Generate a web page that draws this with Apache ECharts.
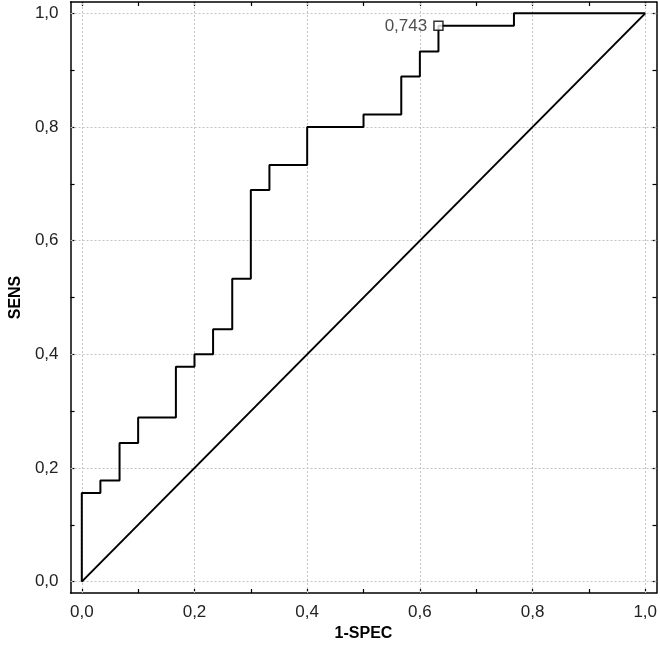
<!DOCTYPE html>
<html>
<head>
<meta charset="utf-8">
<script src="https://cdn.jsdelivr.net/npm/echarts@6/dist/echarts.min.js"></script>
<style>
html,body{margin:0;padding:0;background:#fff;}
#chart{width:660px;height:655px;}
</style>
</head>
<body>
<div id="chart"></div>
<script>
// ROC curve vertices (1-specificity, sensitivity)
var rocX = [0, 0, 0.033, 0.067, 0.1, 0.167, 0.2, 0.233, 0.267, 0.3, 0.333, 0.4, 0.5, 0.567, 0.6, 0.633, 0.767, 1.0];
var rocY = [0, 0.156, 0.178, 0.244, 0.289, 0.378, 0.4, 0.444, 0.533, 0.689, 0.733, 0.8, 0.822, 0.889, 0.933, 0.978, 1.0, 1.0];
// reference diagonal
var diagX = [0, 1];
var diagY = [0, 1];
// highlighted cut-off point
var cutX = [0.633];
var cutY = [0.978];
var cutLabel = ['0,743'];
// axis ticks and labels
var tickValues = [0, 0.1, 0.2, 0.3, 0.4, 0.5, 0.6, 0.7, 0.8, 0.9, 1.0];
var labelValues = [0, 0.2, 0.4, 0.6, 0.8, 1.0];
var gridValues = [0, 0.2, 0.4, 0.6, 0.8, 1.0];

var FONT = '"Liberation Sans", Arial, sans-serif';
function fmt(v){ return v.toFixed(1).replace('.', ','); }

function zipXY(xs, ys){ return xs.map(function(x,i){ return [x, ys[i]]; }); }

var gridLines = [];
gridValues.forEach(function(v){ gridLines.push({xAxis: v}); gridLines.push({yAxis: v}); });

function axisBase(extra){
  var a = {
    type: 'value', min: -0.02, max: 1.02,
    axisLine: {show: true, onZero: false, lineStyle: {color: '#000', width: 1.5}},
    axisTick: {show: true, inside: true, length: 4, customValues: tickValues, lineStyle: {color: '#000', width: 1.2}},
    splitLine: {show: false},
    axisLabel: {show: false}
  };
  for (var k in extra) a[k] = extra[k];
  return a;
}

var chart = echarts.init(document.getElementById('chart'), null, {renderer: 'canvas'});
chart.setOption({
  animation: false,
  backgroundColor: '#fff',
  grid: {left: 68, right: 2, top: 2, bottom: 62, containLabel: false},
  xAxis: [
    axisBase({
      position: 'bottom',
      name: '1-SPEC', nameLocation: 'middle', nameGap: 32,
      nameTextStyle: {fontFamily: FONT, fontWeight: 'bold', fontSize: 16, color: '#000'},
      axisLabel: {show: true, customValues: labelValues, margin: 11, fontFamily: FONT, fontSize: 17, color: '#222', formatter: fmt}
    }),
    axisBase({position: 'top'})
  ],
  yAxis: [
    axisBase({
      position: 'left',
      name: 'SENS', nameLocation: 'middle', nameGap: 42,
      nameTextStyle: {fontFamily: FONT, fontWeight: 'bold', fontSize: 16, color: '#000'},
      axisLabel: {show: true, customValues: labelValues, margin: 12, fontFamily: FONT, fontSize: 17, color: '#222', formatter: fmt}
    }),
    axisBase({position: 'right'})
  ],
  series: [
    {
      type: 'line', data: zipXY(diagX, diagY), symbol: 'none',
      lineStyle: {color: '#000', width: 2}, z: 3,
      markLine: {
        silent: true, symbol: 'none', label: {show: false},
        lineStyle: {color: '#c4c4c4', type: [2, 2], width: 1},
        data: gridLines, z: 1
      }
    },
    {
      type: 'line', data: zipXY(rocX, rocY), step: 'end', symbol: 'none',
      lineStyle: {color: '#000', width: 2}, z: 4
    },
    {
      type: 'scatter', data: cutX.map(function(x,i){ return {value: [x, cutY[i]], label: {formatter: cutLabel[i]}}; }),
      symbol: 'rect', symbolSize: 9,
      itemStyle: {color: '#fff', borderColor: '#000', borderWidth: 1.5},
      label: {show: true, position: 'left', distance: 6, fontFamily: FONT, fontSize: 17, color: '#222'},
      z: 5
    }
  ]
});
</script>
</body>
</html>
